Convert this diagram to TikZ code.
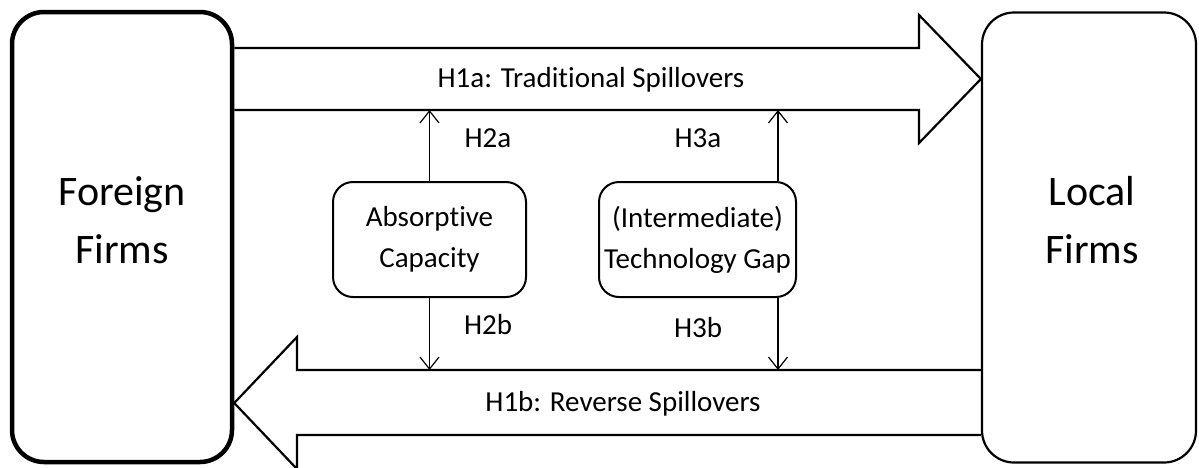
\documentclass[tikz,border=0pt]{standalone}
\usepackage{fontspec}
\setmainfont{Carlito}[Ligatures=CommonOff]
\usetikzlibrary{arrows.meta}

\tikzset{
  firm/.style={draw, rounded corners=32pt, minimum height=450pt},
  firmname/.style={align=center, font=\fontsize{42}{58}\selectfont},
  factor/.style={draw, line width=2pt, rounded corners=20pt, minimum height=115pt,
    align=center, font=\fontsize{29}{41}\selectfont},
  hyp/.style={font=\fontsize{29}{34}\selectfont},
  flow/.style={line width=2.2pt, line join=miter},
  link/.style={-{Straight Barb[length=12pt,width=19pt]}, line width=1.2pt},
}

\begin{document}
\begin{tikzpicture}[x=1pt, y=-1pt]
\useasboundingbox (0,0) rectangle (1199,467);
% Firms
    \node[firm, line width=4.5pt, minimum width=220pt] (foreign) at (122,237) {};
    \node[firm, line width=2.2pt, minimum width=214pt] (local) at (1089,237.5) {};
    \node[firmname] (foreign-name) at (122,220) {Foreign\\Firms};
    \node[firmname] (local-name) at (1092,220) {Local\\Firms};
% Moderators
    \node[factor, minimum width=193pt] (absorb) at (429.5,239.5) {Absorptive\\Capacity};
    \node[factor, minimum width=197pt] (techgap) at (697.5,239.5) {(Intermediate)\\Technology Gap};
% Spillover arrows
    \coordinate (upper) at (0,110);
    \coordinate (lower) at (0,370);
    \draw[flow] (foreign.east |- 0,48) -- (919,48) -- (919,15) -- (local.west |- 0,79)
        -- (919,143) -- (919,110) -- (foreign.east |- upper);
    \draw[flow] (local.west |- lower) -- (297,370) -- (297,337) -- (foreign.east |- 0,403)
        -- (297,469) -- (297,435) -- (local.west |- 0,435);
    \node[hyp] (h1a) at (591,80) {H1a: Traditional Spillovers};
    \node[hyp] (h1b) at (623,404) {H1b: Reverse Spillovers};
% Moderating effects
    \draw[link] (absorb.north) -- (absorb.north |- upper);
    \draw[link] (absorb.south) -- (absorb.south |- lower);
    \draw[link] (techgap.north -| 778,0) -- (778,0 |- upper);
    \draw[link] (techgap.south -| 778,0) -- (778,0 |- lower);
    \node[hyp] (h2a) at (488,138) {H2a};
    \node[hyp] (h2b) at (488,325) {H2b};
    \node[hyp] (h3a) at (698,138) {H3a};
    \node[hyp] (h3b) at (698,328) {H3b};
\end{tikzpicture}
\end{document}
